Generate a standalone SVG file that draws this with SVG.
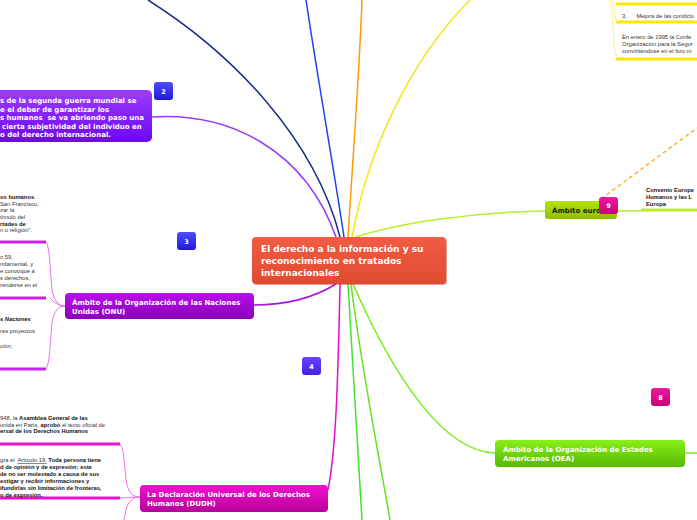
<svg xmlns="http://www.w3.org/2000/svg" width="697" height="520" viewBox="0 0 697 520">
<defs>
<linearGradient id="gRed" x1="0" y1="0" x2="0" y2="1"><stop offset="0" stop-color="#ef5d42"/><stop offset="1" stop-color="#e04a30"/></linearGradient>
<linearGradient id="gPurple" x1="0" y1="0" x2="0" y2="1"><stop offset="0" stop-color="#9b3dff"/><stop offset="1" stop-color="#6e06f2"/></linearGradient>
<linearGradient id="gOnu" x1="0" y1="0" x2="0" y2="1"><stop offset="0" stop-color="#b510e8"/><stop offset="1" stop-color="#8a00bb"/></linearGradient>
<linearGradient id="gDudh" x1="0" y1="0" x2="0" y2="1"><stop offset="0" stop-color="#f010d0"/><stop offset="1" stop-color="#b8009a"/></linearGradient>
<linearGradient id="gOea" x1="0" y1="0" x2="0" y2="1"><stop offset="0" stop-color="#88f018"/><stop offset="1" stop-color="#58b800"/></linearGradient>
<linearGradient id="gEur" x1="0" y1="0" x2="0" y2="1"><stop offset="0" stop-color="#b4e400"/><stop offset="1" stop-color="#8cbf00"/></linearGradient>
<linearGradient id="gBlue" x1="0" y1="0" x2="0" y2="1"><stop offset="0" stop-color="#4e4eff"/><stop offset="1" stop-color="#2218d8"/></linearGradient>
<linearGradient id="gViolet" x1="0" y1="0" x2="0" y2="1"><stop offset="0" stop-color="#6a42ff"/><stop offset="1" stop-color="#4420e0"/></linearGradient>
<linearGradient id="gMag" x1="0" y1="0" x2="0" y2="1"><stop offset="0" stop-color="#f0189e"/><stop offset="1" stop-color="#c8007a"/></linearGradient>
</defs>
<style>
.ln{fill:none;stroke-width:1.5}
.ul{fill:none;stroke-width:3}
.nt{font-family:"DejaVu Sans",Verdana,sans-serif;font-weight:bold;font-size:7px;fill:#fff}
.ct{font-family:"DejaVu Sans",Verdana,sans-serif;font-weight:bold;font-size:9px;fill:#fff}
.sm{font-family:"Liberation Sans",Arial,sans-serif;font-size:5.8px;fill:#333}
.b{font-weight:bold;fill:#111}
.bd{font-family:"DejaVu Sans",Verdana,sans-serif;font-weight:bold;font-size:6.5px;fill:#fff;text-anchor:middle}
</style>
<rect width="697" height="520" fill="#fff"/>
<g id="connectors">
<path class="ln" stroke="#1b2a8c" d="M148,0 C235,55 315,140 340,237"/>
<path class="ln" stroke="#2244ee" d="M306,0 C318,80 334,170 344,237"/>
<path class="ln" stroke="#ff9a00" d="M362,0 C359,80 352,170 348,237"/>
<path class="ln" stroke="#f2e61c" d="M470,0 C410,60 368,150 352,237"/>
<path class="ln" stroke="#9a3cff" d="M152,117 C230,112 305,150 336,237"/>
<path class="ln" stroke="#b9ec2c" d="M356,237 C395,224 470,212 545,211"/>
<path class="ln" stroke="#b9ec2c" d="M617,211 L641,211"/>
<path class="ul" stroke="#b9ec2c" d="M641,210 L697,210"/>
<path fill="none" stroke="#ffae40" stroke-width="1.5" stroke-dasharray="4,3" d="M601,199 L697,128"/>
<path class="ln" stroke="#b010e0" d="M254,305 C290,305 315,297 336,284"/>
<path class="ln" stroke="#e010c8" d="M340,284 C338,380 336,450 328,490"/>
<path class="ln" stroke="#44e030" d="M348,284 C353,380 359,460 362,520"/>
<path class="ln" stroke="#66e020" d="M351,284 C363,380 380,460 390,520"/>
<path class="ln" stroke="#7aec1a" d="M353,284 C395,380 445,452 495,453"/>
<path class="ln" stroke="#7aec1a" d="M685,453 L697,453"/>
<path fill="none" stroke="#fff28a" stroke-width="1" d="M610,0 C614,15 612,45 617,58"/>
<path fill="none" stroke="#fff28a" stroke-width="1" d="M612,0 C616,8 614,18 617,22"/>
<path class="ul" stroke="#ffe600" d="M616,4 L697,4"/>
<path class="ul" stroke="#ffe600" d="M616,22 L697,22"/>
<path class="ul" stroke="#ffe600" d="M616,59 L697,59"/>
<path fill="none" stroke="#e070f0" stroke-width="1" d="M65,306 C58,306 54,300 52,290 C50,270 50,248 46,242"/>
<path fill="none" stroke="#e070f0" stroke-width="1" d="M65,306 C58,306 54,302 50,298"/>
<path fill="none" stroke="#e070f0" stroke-width="1" d="M65,306 C58,306 54,312 52,322 C50,345 50,362 46,369"/>
<path class="ul" stroke="#cc22ee" d="M0,242 L46,242"/>
<path class="ul" stroke="#cc22ee" d="M0,298 L46,298"/>
<path class="ul" stroke="#cc22ee" d="M0,369 L46,369"/>
<path fill="none" stroke="#f070e0" stroke-width="1" d="M140,497 C132,497 128,492 126,480 C124,460 124,450 120,444"/>
<path fill="none" stroke="#f070e0" stroke-width="1" d="M140,497 C132,497 126,498 120,498"/>
<path fill="none" stroke="#f070e0" stroke-width="1" d="M140,497 C132,497 128,502 126,510 C125,515 124,518 124,520"/>
<path class="ul" stroke="#ee10c8" d="M0,444 L120,444"/>
<path class="ul" stroke="#ee10c8" d="M0,498 L120,498"/>
</g>
<g id="node-center">
<rect x="253" y="238" width="194" height="47" rx="4" fill="#c8442c" opacity="0.5"/>
<rect x="252" y="237" width="194" height="47" rx="4" fill="url(#gRed)"/>
<text class="ct" x="261" y="252">El derecho a la información y su</text>
<text class="ct" x="261" y="264">reconocimiento en tratados</text>
<text class="ct" x="261" y="276">internacionales</text>
</g>
<g id="node-2">
<rect x="-10" y="90" width="162" height="52" rx="5" fill="url(#gPurple)"/>
<text class="nt" x="0" y="103">s de la segunda guerra mundial se</text>
<text class="nt" x="0" y="111.5">e el deber de garantizar los</text>
<text class="nt" x="0" y="120" xml:space="preserve">s humanos  se va abriendo paso una</text>
<text class="nt" x="2" y="128.5">cierta subjetividad del individuo en</text>
<text class="nt" x="0" y="137">o del derecho internacional.</text>
</g>
<g id="onu-texts">
<text class="sm" x="0" y="199"><tspan class="b">os humanos</tspan>.</text>
<text class="sm" x="0" y="205.7">San Francisco,</text>
<text class="sm" x="0" y="212.4">zar la</text>
<text class="sm" x="0" y="219">tímulo del</text>
<text class="sm b" x="0" y="225.7">rtades de</text>
<text class="sm" x="0" y="232.4">n o religión".</text>
<text class="sm" x="0" y="259">n 59,</text>
<text class="sm" x="0" y="266">ndamental, y</text>
<text class="sm" x="0" y="273">e convoque a</text>
<text class="sm" x="0" y="280">s derechos,</text>
<text class="sm" x="0" y="287">renderse en el</text>
<text class="sm b" x="0" y="321" font-style="italic">s Naciones</text>
<text class="sm" x="0" y="333">res proyectos</text>
<text class="sm" x="0" y="348">ción;</text>
</g>
<g id="node-onu">
<rect x="65" y="293" width="189" height="26" rx="4" fill="url(#gOnu)"/>
<text class="nt" x="72" y="305">Ámbito de la Organización de las Naciones</text>
<text class="nt" x="72" y="314">Unidas (ONU)</text>
</g>
<g id="dudh-texts">
<text class="sm" x="0" y="420">948, la <tspan class="b">Asamblea General de las</tspan></text>
<text class="sm" x="0" y="426.5">unida en París, <tspan class="b">aprobó</tspan> el texto oficial de</text>
<text class="sm b" x="0" y="433">ersal de los Derechos Humanos</text>
<text class="sm" x="0" y="462" xml:space="preserve">gra el  <tspan text-decoration="underline">Artículo 19.</tspan> <tspan class="b">Toda persona tiene</tspan></text>
<text class="sm b" x="0" y="469">d de opinión y de expresión; este</text>
<text class="sm b" x="0" y="476">de no ser molestado a causa de sus</text>
<text class="sm b" x="0" y="483">estigar y recibir informaciones y</text>
<text class="sm b" x="0" y="490">ifundirlas sin limitación de fronteras,</text>
<text class="sm b" x="0" y="497">o de expresión.</text>
</g>
<g id="node-dudh">
<rect x="140" y="485" width="188" height="27" rx="4" fill="url(#gDudh)"/>
<text class="nt" x="147" y="497">La Declaración Universal de los Derechos</text>
<text class="nt" x="147" y="506">Humanos (DUDH)</text>
</g>
<g id="node-oea">
<rect x="495" y="440" width="190" height="27" rx="4" fill="url(#gOea)"/>
<text class="nt" x="503" y="452">Ámbito de la Organización de Estados</text>
<text class="nt" x="503" y="461">Americanos (OEA)</text>
</g>
<g id="node-europeo">
<rect x="545" y="201" width="72" height="18" rx="3" fill="url(#gEur)"/>
<text class="nt" x="552" y="213" style="fill:#1a1a1a">Ámbito euro</text>
</g>
<g id="convenio-text">
<text class="sm b" x="646" y="192">Convenio Europe</text>
<text class="sm b" x="646" y="199">Humanos y las L</text>
<text class="sm b" x="646" y="206">Europa</text>
</g>
<g id="top-right-texts">
<text class="sm" x="622" y="18" xml:space="preserve">3.      Mejora de las condicio</text>
<text class="sm" x="622" y="39">En enero de 1995 la Confe</text>
<text class="sm" x="622" y="46">Organización para la Segur</text>
<text class="sm" x="622" y="53">convirtiéndose en el foro m</text>
</g>
<g id="badge-2"><rect x="154" y="82" width="19" height="18" rx="3" fill="url(#gBlue)"/><text class="bd" x="163.5" y="93.5">2</text></g>
<g id="badge-3"><rect x="177" y="232" width="19" height="18" rx="3" fill="url(#gBlue)"/><text class="bd" x="186.5" y="243.5">3</text></g>
<g id="badge-4"><rect x="302" y="357" width="19" height="18" rx="3" fill="url(#gViolet)"/><text class="bd" x="311.5" y="368.5">4</text></g>
<g id="badge-8"><rect x="651" y="388" width="19" height="18" rx="3" fill="url(#gMag)"/><text class="bd" x="660.5" y="399.5">8</text></g>
<g id="badge-9"><rect x="599" y="197" width="19" height="17" rx="3" fill="url(#gMag)"/><text class="bd" x="608.5" y="208">9</text></g>
</svg>
